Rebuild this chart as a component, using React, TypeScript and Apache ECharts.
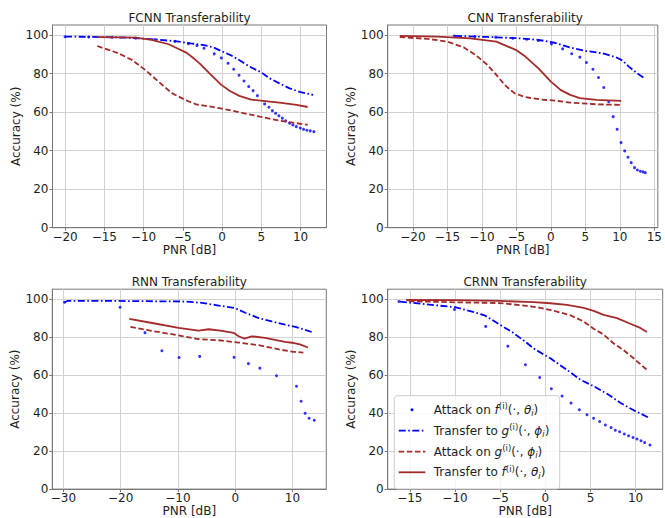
import React, { useEffect, useRef } from "react";
import * as echarts from "echarts";

type P = [number, number][];

// ---------- FCNN ----------
const fcnnAttackF: P = [[-20, 99.2], [-17, 99.1], [-14, 98.9], [-11, 98.5], [-8.5, 97.8], [-6, 96.8], [-4.3, 95.6], [-3.2, 94.6], [-2.3, 93.2], [-1.0, 90.3], [-0.1, 88.2], [0.76, 85.4], [1.48, 82.3], [2.16, 79.2], [2.79, 76.2], [3.39, 73.3], [3.95, 71.2], [4.5, 68.6], [5.42, 64.3], [5.97, 62.6], [6.4, 60.8], [6.82, 59.4], [7.24, 58.1], [7.67, 56.9], [8.09, 55.5], [8.6, 54.3], [9.02, 53.4], [9.45, 52.5], [9.96, 51.8], [10.38, 51.1], [10.8, 50.6], [11.23, 50.3], [11.69, 49.9]];
const fcnnTransferG: P = [[-20, 99.3], [-15, 99.0], [-12, 98.7], [-10, 98.2], [-8, 97.6], [-6, 96.9], [-4, 95.8], [-2.5, 95], [-1.2, 93.8], [0, 91.6], [1, 89.8], [2, 87.5], [3.5, 83.7], [5, 80.7], [6, 77.7], [7.3, 75], [8.6, 72.4], [10, 70.4], [11.6, 69]];
const fcnnAttackG: P = [[-15.9, 94.4], [-13.2, 90.6], [-11.5, 87.2], [-9.8, 82], [-8.1, 75.9], [-6.4, 69.9], [-4.7, 66.4], [-3.3, 64.1], [-0.3, 62.1], [2.2, 60], [4.8, 57.7], [7.3, 55.6], [9, 54.6], [10.9, 53.4]];
const fcnnTransferF: P = [[-15.9, 99], [-13, 98.9], [-11, 98.7], [-9, 97.6], [-6.8, 95.3], [-5.4, 92.6], [-4.5, 90.8], [-3.5, 87.6], [-2.8, 85.1], [-1.6, 80.2], [-0.1, 74.2], [1, 71], [2.2, 68.5], [3.7, 66.5], [5.2, 65.9], [7.3, 65], [9.5, 63.8], [10.9, 62.7]];

// ---------- CNN ----------
const cnnAttackF: P = [[-14, 99.6], [-11, 99.3], [-8, 98.9], [-5.5, 98.4], [-3.5, 97.9], [-1.8, 97.3], [0.08, 95.5], [1.7, 92.9], [3.02, 90.4], [4.2, 88.6], [5.15, 85.8], [6.1, 82.3], [6.9, 78], [7.66, 72.8], [8.38, 65.5], [9.03, 57.7], [9.6, 51.1], [10.17, 44.2], [10.7, 39.9], [11.17, 36.6], [11.64, 33.8], [12.12, 31.2], [12.54, 30], [12.97, 29.3], [13.35, 29], [13.68, 28.6]];
const cnnTransferG: P = [[-13.9, 99.6], [-9.3, 99.1], [-4.6, 98.4], [-1.9, 97.6], [0.3, 96.3], [2.8, 93.6], [5.1, 91.8], [7.5, 90.6], [9.4, 88.6], [10.4, 86.8], [11.3, 83.7], [12.5, 80.2], [13.6, 77.6]];
const cnnAttackG: P = [[-21.9, 99], [-17.9, 98.1], [-15, 96.7], [-12.6, 93.6], [-10.8, 89.4], [-9.3, 84.9], [-7.9, 79.4], [-6.7, 74.2], [-5.3, 69.9], [-3.7, 67.8], [-1.4, 66.6], [0.6, 66], [2.8, 65], [6.6, 64.1], [10.1, 63.8]];
const cnnTransferF: P = [[-21.9, 99.6], [-16.5, 99.3], [-11.7, 98.4], [-7.9, 96.7], [-5.1, 92.4], [-3.7, 88.9], [-1.8, 82.8], [0, 75.9], [1.4, 71.6], [2.8, 69], [4.2, 67.3], [6.6, 66.4], [10.2, 65.9]];

// ---------- RNN ----------
const rnnAttackF: P = [[-29.8, 98.4], [-20.1, 95.8], [-15.75, 82.4], [-12.8, 72.9], [-9.8, 69.3], [-6.2, 69.9], [-0.2, 69.4], [2.3, 66.1], [4.3, 63.7], [7.2, 59.7], [10.7, 54.2], [11.5, 46.3], [12.2, 39.9], [12.9, 37.3], [13.8, 36.3]];
const rnnTransferG: P = [[-29.8, 98.4], [-29.3, 99.1], [-20.3, 99.1], [-8.7, 98.8], [-5.8, 98.1], [-2.9, 96.7], [0, 95.3], [1.75, 92.9], [4.1, 90.1], [6.4, 88.3], [8.7, 86.6], [10.5, 85.4], [12.2, 83.9], [13.7, 82.4]];
const rnnAttackG: P = [[-18.3, 85.4], [-14.5, 83.3], [-9.9, 81], [-6.4, 79], [-2.9, 78.4], [0.6, 77.2], [4.1, 75.8], [7.6, 73.6], [9.9, 72.4], [11.9, 71.9]];
const rnnTransferF: P = [[-18.5, 89.7], [-14.5, 87.5], [-9.9, 84.9], [-6.4, 83.5], [-4.6, 84.2], [-2.3, 83.3], [-0.3, 82.3], [0.6, 80.5], [1.6, 79.3], [2.9, 80.5], [5.2, 79.7], [8.7, 77.6], [9.9, 77.1], [11.3, 76.2], [12.7, 74.6]];

// ---------- CRNN ----------
const crnnAttackF: P = [[-16.2, 98.8], [-10.06, 94.6], [-6.6, 85.7], [-4.15, 75.3], [-2.2, 65.5], [-0.62, 58.8], [0.67, 52.9], [1.86, 49], [2.85, 45.3], [3.77, 41.8], [4.62, 39.2], [5.35, 37.3], [6.02, 35.6], [6.65, 33.8], [7.28, 32.4], [7.75, 31], [8.23, 30.2], [8.75, 29], [9.23, 28.1], [9.71, 27.2], [10.15, 26.4], [10.6, 25.5], [11, 24.5], [11.59, 23.2]];
const crnnTransferG: P = [[-16.1, 98.8], [-13.7, 97.6], [-10, 95.8], [-8.1, 93.5], [-6.7, 91.5], [-5.2, 87.1], [-3.7, 82.8], [-2.2, 77.6], [-1.3, 74.1], [0.56, 68.9], [2.4, 62.8], [3.9, 57.6], [5.35, 54.2], [6.84, 50.2], [8.3, 45.5], [9.8, 41.5], [11.44, 37.7]];
const crnnAttackG: P = [[-15.1, 99], [-10, 98.4], [-5.1, 98], [-2.5, 96.8], [-0.54, 95.5], [1.3, 93.5], [2.8, 91.5], [4.25, 88.3], [5.35, 84.5], [6.46, 81.4], [7.57, 76.7], [8.67, 73.2], [9.78, 68.9], [11.26, 62.8]];
const crnnTransferF: P = [[-15.4, 99.6], [-10, 99.5], [-5, 99.1], [-1.3, 98.5], [0.56, 97.9], [2.4, 97], [4.25, 95.5], [5.35, 93.9], [6.46, 91.8], [7.94, 90.1], [9.41, 87.1], [10.52, 84.9], [11.26, 82.8]];

// ---------- ticks / labels ----------
const titles = ["FCNN Transferability", "CNN Transferability", "RNN Transferability", "CRNN Transferability"];
const xTicksFCNN = [-20, -15, -10, -5, 0, 5, 10];
const xTicksCNN = [-20, -15, -10, -5, 0, 5, 10, 15];
const xTicksRNN = [-30, -20, -10, 0, 10];
const xTicksCRNN = [-15, -10, -5, 0, 5, 10];
const yTicks = [0, 20, 40, 60, 80, 100];
const xLabel = "PNR [dB]";
const yLabel = "Accuracy (%)";

const FONT = "DejaVu Sans";
const BLUE = "#0000ff";
const BROWN = "#a52a2a";
const SPINE = "#777777";
const GRID = "#d2d2d2";
const TEXT = "#1e1e1e";

const panels = [
  { grid: { left: 52.5, top: 25, width: 274, height: 202.7 }, xr: [-21.6, 13.3], ticks: xTicksFCNN, data: [fcnnAttackF, fcnnTransferG, fcnnAttackG, fcnnTransferF] },
  { grid: { left: 387.7, top: 25, width: 275, height: 202.7 }, xr: [-23.65, 15.5], ticks: xTicksCNN, data: [cnnAttackF, cnnTransferG, cnnAttackG, cnnTransferF] },
  { grid: { left: 52.3, top: 289.2, width: 274, height: 202.1 }, xr: [-31.93, 15.9], ticks: xTicksRNN, data: [rnnAttackF, rnnTransferG, rnnAttackG, rnnTransferF] },
  { grid: { left: 387.7, top: 289.2, width: 275, height: 202.1 }, xr: [-17.45, 13.0], ticks: xTicksCRNN, data: [crnnAttackF, crnnTransferG, crnnAttackG, crnnTransferF] },
];

const fmtX = (v: number) => {
  const r = Math.round(v);
  if (Math.abs(v - r) > 1e-6) return "";
  return r < 0 ? "\u2212" + -r : String(r);
};
const fmtY = (v: number) => {
  const r = Math.round(v);
  if (Math.abs(v - r) > 1e-6 || r % 20 !== 0) return "";
  return String(r);
};

const DASHDOT = [7, 2.5, 1.6, 2.5];
const DASHED = [5.5, 2.6];

const richStyles = {
  i: { fontFamily: FONT, fontSize: 12, fontStyle: "italic", lineHeight: 16, fill: TEXT, color: TEXT },
  sup: { fontFamily: FONT, fontSize: 8.5, lineHeight: 9, verticalAlign: "top", fill: TEXT, color: TEXT },
  sub: { fontFamily: FONT, fontSize: 8.5, fontStyle: "italic", lineHeight: 9, verticalAlign: "bottom", fill: TEXT, color: TEXT },
};

const legendTexts = [
  "Attack on {i|f}{sup|(i)}(·, {i|θ}{sub|i})",
  "Transfer to {i|g}{sup|(i)}(·, {i|ϕ}{sub|i})",
  "Attack on {i|g}{sup|(i)}(·, {i|ϕ}{sub|i})",
  "Transfer to {i|f}{sup|(i)}(·, {i|θ}{sub|i})",
];

export default function App() {
  const ref = useRef<HTMLDivElement>(null);
  useEffect(() => {
    if (!ref.current) return;
    const chart = echarts.init(ref.current, undefined, { renderer: "svg" });

    const grid = panels.map((p) => ({ ...p.grid, show: true, borderColor: SPINE, borderWidth: 1, backgroundColor: "transparent", containLabel: false }));
    const xAxis = panels.map((p, i) => ({
      type: "value",
      gridIndex: i,
      min: p.xr[0],
      max: p.xr[1],
      name: xLabel,
      nameLocation: "middle",
      nameGap: 14,
      nameTextStyle: { fontFamily: FONT, fontSize: 12, color: TEXT },
      axisLine: { show: true, onZero: false, lineStyle: { color: SPINE, width: 1 } },
      axisTick: { show: true, length: 3, lineStyle: { color: SPINE }, customValues: p.ticks },
      axisLabel: { fontFamily: FONT, fontSize: 12, color: TEXT, margin: 3, formatter: fmtX, customValues: p.ticks },
      splitLine: { show: true, lineStyle: { color: GRID, width: 1 } },
    }));
    const yAxis = panels.map((p, i) => ({
      type: "value",
      gridIndex: i,
      min: 0,
      max: 105.3,
      interval: 20,
      name: yLabel,
      nameLocation: "middle",
      nameGap: 19,
      nameTextStyle: { fontFamily: FONT, fontSize: 12, color: TEXT },
      axisLine: { show: true, onZero: false, lineStyle: { color: SPINE, width: 1 } },
      axisTick: { show: true, length: 3, lineStyle: { color: SPINE }, customValues: yTicks },
      axisLabel: { fontFamily: FONT, fontSize: 12, color: TEXT, margin: 4, formatter: fmtY, customValues: yTicks },
      splitLine: { show: true, lineStyle: { color: GRID, width: 1 } },
    }));

    const series: any[] = [];
    panels.forEach((p, i) => {
      const [af, tg, ag, tf] = p.data;
      series.push({ type: "scatter", xAxisIndex: i, yAxisIndex: i, data: af, symbol: "circle", symbolSize: 3, itemStyle: { color: BLUE }, silent: true, z: 2 });
      series.push({ type: "line", xAxisIndex: i, yAxisIndex: i, data: tg, showSymbol: false, symbol: "none", lineStyle: { color: BLUE, width: 1.8, type: DASHDOT }, silent: true, z: 3 });
      series.push({ type: "line", xAxisIndex: i, yAxisIndex: i, data: ag, showSymbol: false, symbol: "none", lineStyle: { color: BROWN, width: 1.8, type: DASHED }, silent: true, z: 4 });
      series.push({ type: "line", xAxisIndex: i, yAxisIndex: i, data: tf, showSymbol: false, symbol: "none", lineStyle: { color: BROWN, width: 1.8 }, silent: true, z: 5 });
    });

    const graphic: any[] = [];
    panels.forEach((p, i) => {
      graphic.push({
        type: "text",
        x: p.grid.left + p.grid.width / 2,
        y: p.grid.top - 7,
        style: { text: titles[i], fontFamily: FONT, fontSize: 12, fill: TEXT, align: "center", textAlign: "center", verticalAlign: "middle", textVerticalAlign: "middle" },
      });
    });
    // legend in CRNN panel
    const lx = 394.3, ly = 395.7, lw = 165.4, lh = 93.3;
    const Z = 100;
    const legendChildren: any[] = [
      { type: "rect", z: Z, shape: { x: lx, y: ly, width: lw, height: lh, r: 3 }, style: { fill: "rgba(255,255,255,0.8)", stroke: "#cccccc", lineWidth: 1 } },
    ];
    const rowsY = [409.7, 430.7, 451.7, 472.3];
    const hx0 = 398.7, hx1 = 425.3, tx = 433.7;
    legendChildren.push({ type: "circle", z: Z + 1, shape: { cx: (hx0 + hx1) / 2, cy: rowsY[0], r: 1.5 }, style: { fill: BLUE } });
    legendChildren.push({ type: "line", z: Z + 1, shape: { x1: hx0, y1: rowsY[1], x2: hx1, y2: rowsY[1] }, style: { stroke: BLUE, lineWidth: 1.8, lineDash: DASHDOT } });
    legendChildren.push({ type: "line", z: Z + 1, shape: { x1: hx0, y1: rowsY[2], x2: hx1, y2: rowsY[2] }, style: { stroke: BROWN, lineWidth: 1.8, lineDash: DASHED } });
    legendChildren.push({ type: "line", z: Z + 1, shape: { x1: hx0, y1: rowsY[3], x2: hx1, y2: rowsY[3] }, style: { stroke: BROWN, lineWidth: 1.8 } });
    legendTexts.forEach((t, k) => {
      legendChildren.push({
        type: "text",
        z: Z + 1,
        x: tx,
        y: rowsY[k],
        style: { text: t, fontFamily: FONT, fontSize: 12, lineHeight: 16, fill: TEXT, align: "left", textAlign: "left", verticalAlign: "middle", textVerticalAlign: "middle", rich: richStyles },
      });
    });
    graphic.push({ type: "group", z: Z, children: legendChildren });

    chart.setOption({
      animation: false,
      backgroundColor: "#ffffff",
      textStyle: { fontFamily: FONT },
      grid,
      xAxis,
      yAxis,
      series,
      graphic,
    });
    return () => chart.dispose();
  }, []);
  return <div ref={ref} style={{ position: "fixed", left: 0, top: 0, width: 665, height: 518 }} />;
}
